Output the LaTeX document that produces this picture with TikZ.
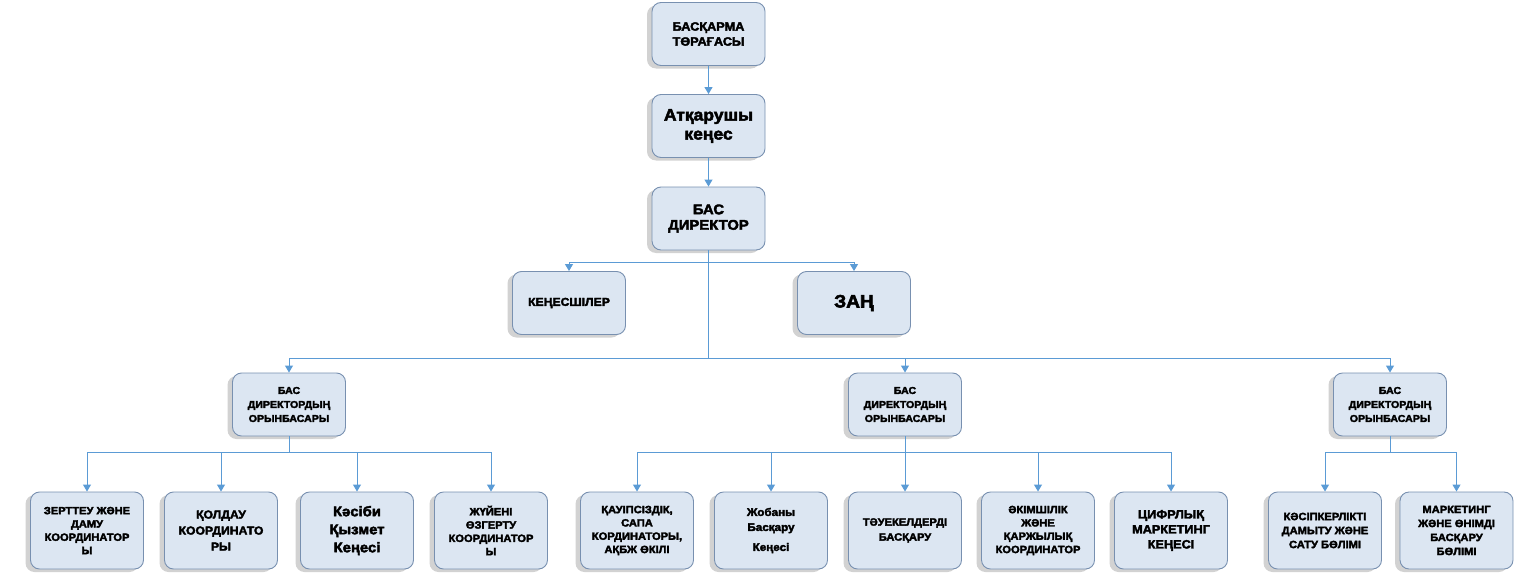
\documentclass[tikz,border=0pt]{standalone}
\usepackage{fontspec}
\setmainfont{Liberation Sans}
\newfontfamily\heavy{Liberation Sans}[BoldFeatures={FakeBold=3,FakeStretch=1.06}]
\usetikzlibrary{arrows.meta,shadows,positioning}
\definecolor{boxfill}{HTML}{DCE6F2}
\definecolor{boxdraw}{HTML}{7890B0}
\definecolor{linec}{HTML}{5B9BD5}
\tikzset{
  box/.style={draw=boxdraw, line width=0.9pt, fill=boxfill, rounded corners=9pt,
    minimum width=113pt, minimum height=63pt, align=center, inner sep=2pt,
    font=\heavy\bfseries,
    drop shadow={shadow xshift=-5pt, shadow yshift=-3pt, opacity=0.25, fill=black!70}},
  lowbox/.style={box, minimum height=77pt},
  fs/.style 2 args={font=\heavy\bfseries\fontsize{#1}{#2}\selectfont},
  conn/.style={draw=linec, line width=1pt},
  arr/.style={conn, -{Triangle[width=8pt,length=7pt]}},
}
\begin{document}
\begin{tikzpicture}[x=1pt,y=-1pt]
\useasboundingbox (0,0) rectangle (1522,578);
% top chain
\node[box,fs={12}{15}] (top) at (708.5,34) {БАСҚАРМА\\ТӨРАҒАСЫ};
\node[box,fs={16.5}{19}] (exec) at (708.5,126) {Атқарушы\\кеңес};
\node[box,fs={14}{15.5}] (ceo) at (708.5,218.5) {БАС\\ДИРЕКТОР};
\node[box,fs={11.5}{14}] (adv) at (569,303) {КЕҢЕСШІЛЕР};
\node[box,fs={18}{20}] (law) at (854,303) {ЗАҢ};
% deputies
\node[box,fs={10}{14}] (d1) at (289,404.5) {БАС\\ДИРЕКТОРДЫҢ\\ОРЫНБАСАРЫ};
\node[box,fs={10}{14}] (d2) at (905,404.5) {БАС\\ДИРЕКТОРДЫҢ\\ОРЫНБАСАРЫ};
\node[box,fs={10}{14}] (d3) at (1390,404.5) {БАС\\ДИРЕКТОРДЫҢ\\ОРЫНБАСАРЫ};
% bottom row, left group
\node[lowbox,fs={10.5}{13.3}] (b1) at (87,530.5) {ЗЕРТТЕУ ЖӘНЕ\\ДАМУ\\КООРДИНАТОР\\Ы};
\node[lowbox,fs={11.5}{16}] (b2) at (221,530.5) {ҚОЛДАУ\\КООРДИНАТО\\РЫ};
\node[lowbox,fs={14}{18}] (b3) at (357,530.5) {Кәсіби\\Қызмет\\Кеңесі};
\node[lowbox,fs={10.5}{13.3}] (b4) at (491,530.5) {ЖҮЙЕНІ\\ӨЗГЕРТУ\\КООРДИНАТОР\\Ы};
% middle group
\node[lowbox,fs={10.5}{13.3}] (m1) at (637,530.5) {ҚАУІПСІЗДІК,\\САПА\\КОРДИНАТОРЫ,\\АҚБЖ ӨКІЛІ};
\node[lowbox,fs={11}{15}] (m2) at (771,530.5) {Жобаны\\Басқару\\[5pt]Кеңесі};
\node[lowbox,fs={10.5}{15}] (m3) at (905,530.5) {ТӘУЕКЕЛДЕРДІ\\БАСҚАРУ};
\node[lowbox,fs={10.5}{13.3}] (m4) at (1038,530.5) {ӘКІМШІЛІК\\ЖӘНЕ\\ҚАРЖЫЛЫҚ\\КООРДИНАТОР};
\node[lowbox,fs={12}{15}] (m5) at (1171,530.5) {ЦИФРЛЫҚ\\МАРКЕТИНГ\\КЕҢЕСІ};
% right group
\node[lowbox,fs={10.5}{14}] (r1) at (1325,530.5) {КӘСІПКЕРЛІКТІ\\ДАМЫТУ ЖӘНЕ\\САТУ БӨЛІМІ};
\node[lowbox,fs={10.5}{14}] (r2) at (1456.5,530.5) {МАРКЕТИНГ\\ЖӘНЕ ӨНІМДІ\\БАСҚАРУ\\БӨЛІМІ};
% junctions
\coordinate (j1) at (708.5,262);
\coordinate (j2) at (708.5,358);
\coordinate (k1) at (289,452);
\coordinate (k2) at (905,452);
\coordinate (k3) at (1390,452);
% connectors
\draw[arr] (top) -- (exec);
\draw[arr] (exec) -- (ceo);
\draw[conn] (ceo.south) -- (j2);
\draw[arr] (j1) -| (adv.north);
\draw[arr] (j1) -| (law.north);
\draw[arr] (j2) -| (d1.north);
\draw[arr] (j2) -| (d2.north);
\draw[arr] (j2) -| (d3.north);
\draw[conn] (d1.south) -- (k1);
\foreach \n in {b1,b2,b3,b4} \draw[arr] (k1) -| (\n.north);
\foreach \n in {m1,m2,m4,m5} \draw[arr] (k2) -| (\n.north);
\draw[arr] (d2.south) -- (m3.north);
\draw[conn] (d3.south) -- (k3);
\foreach \n in {r1,r2} \draw[arr] (k3) -| (\n.north);
\end{tikzpicture}
\end{document}
